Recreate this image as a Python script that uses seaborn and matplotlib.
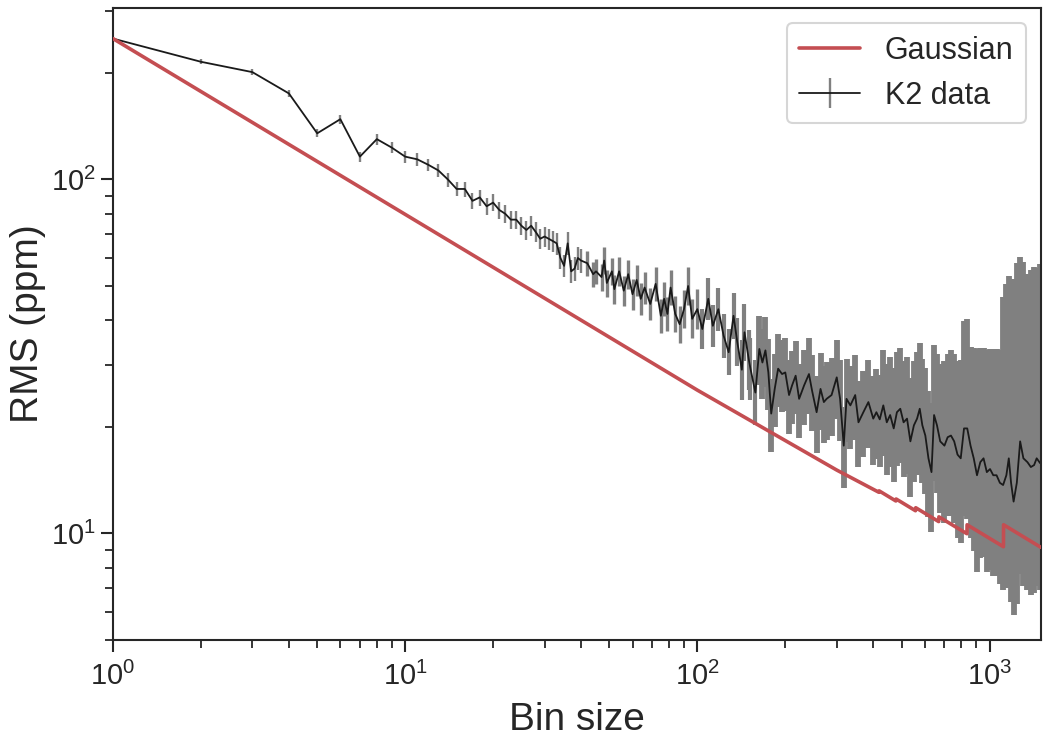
import numpy as np
import seaborn as sns
import matplotlib.pyplot as plt

# K2 binned RMS
k2_bin = [1, 2, 3, 4, 5, 6, 7, 8, 9, 10, 11, 12, 13, 14, 15, 16, 17, 18, 19, 20,
          21, 22, 23, 24, 25, 26, 27, 28, 29, 30, 31, 32, 33, 34, 35, 36, 37, 38, 39, 40,
          42, 44, 45, 47, 48, 49, 51, 52, 54, 56, 58, 60, 62, 64, 66, 69, 72, 75, 77, 79,
          81, 84, 87, 90, 93, 96, 100, 104, 109, 113, 118, 123, 128, 133, 137, 142, 145, 150, 152, 158,
          163, 167, 171, 175, 179, 184, 189, 195, 200, 206, 211, 217, 223, 232, 241, 247, 256, 264, 271, 277,
          288, 300, 308, 317, 324, 334, 347, 356, 370, 385, 400, 410, 421,
          433, 445, 457, 470, 482, 495, 508, 522, 536, 551, 565, 577, 589, 603, 618, 633, 646, 661, 678, 701,
          719, 738, 757, 777, 797, 818, 839, 861, 883, 906, 930, 954, 979, 1004, 1030, 1057, 1085, 1113, 1142, 1164,
          1185, 1209, 1240, 1273, 1306, 1348, 1385, 1421, 1450, 1490]

k2_rms = [250, 215, 201, 175, 135, 148, 116, 130, 123, 116, 114, 110, 106, 100, 94, 94, 87, 89, 84, 86,
          82, 80, 77, 77, 74, 72, 74, 71, 68, 69, 68, 67, 66, 60, 57, 66, 55, 56, 60, 59,
          58, 54, 55, 53, 59, 51, 55, 49, 55, 48.5, 54, 47.4, 52, 46, 49.5, 44.5, 50.7, 41.2, 46, 41.7,
          49.5, 41.7, 39, 43, 50, 40.4, 43, 37.8, 46, 38.6, 43, 36.2, 32.5, 41.2, 34.7, 29, 37, 31, 29.2, 25,
          33.2, 30.4, 32.9, 28.5, 21.8, 25.6, 29.2, 28.2, 28.5, 24.6, 26.2, 27.9, 24.0, 26.2, 28.2, 25.3, 22.0, 25.6, 23.5, 24.0,
          24.6, 27.6, 24.0, 17.7, 24.0, 23.0, 24.6, 20.6, 22.0, 23.5, 21.1, 22.0, 21.0,
          23.0, 20.6, 21.6, 19.8, 22.0, 22.5, 20.6, 21.1, 18.2, 20.2, 21.1, 22.5, 20.2, 18.9, 16.3, 14.9, 21.6, 20.2, 18.2, 17.7,
          18.7, 18.9, 18.2, 16.7, 16.3, 19.8, 19.8, 17.7, 16.3, 14.6, 15.9, 16.3, 14.9, 15.2, 14.6, 14.6, 13.9, 13.7, 14.6, 16.3,
          13.9, 12.3, 13.9, 18.2, 16.3, 15.9, 15.4, 15.6, 16.3, 15.8]

k2_err_lo = [3.0, 3.5, 3.8, 4.2, 3.6, 4.4, 3.8, 4.5, 4.5, 4.5, 4.5, 4.6, 4.6, 4.5, 4.4, 4.6, 4.4, 4.6, 4.5, 4.7,
             4.6, 4.6, 4.6, 4.6, 4.5, 4.5, 4.7, 4.6, 4.5, 4.6, 4.6, 4.6, 4.7, 4.3, 4.1, 4.9, 4.1, 4.2, 4.6, 4.5,
             4.6, 4.4, 4.5, 4.5, 5.0, 4.4, 4.8, 4.4, 5.0, 4.5, 5.0, 4.5, 5.0, 4.5, 5.0, 4.5, 5.3, 4.4, 4.9, 4.5,
             5.4, 4.7, 4.4, 5.0, 5.9, 4.8, 5.3, 4.7, 5.9, 5.0, 5.7, 4.9, 4.5, 5.8, 5.0, 5.2, 6.3, 5.6, 5.4, 4.8,
             7.0, 6.5, 7.0, 6.2, 4.8, 5.6, 6.4, 6.2, 6.3, 5.5, 5.8, 6.2, 5.4, 6.0, 6.4, 5.8, 5.1, 6.0, 5.5, 5.6,
             5.8, 6.6, 5.8, 4.3, 5.9, 5.7, 6.2, 5.2, 5.6, 6.1, 5.5, 5.8, 5.6,
             6.5, 6.0, 6.2, 5.8, 6.5, 6.7, 6.2, 6.4, 5.5, 6.2, 6.5, 7.0, 6.3, 6.0, 5.2, 4.8, 7.5, 7.2, 6.8, 7.0,
             7.5, 7.7, 7.5, 7.0, 6.9, 8.6, 8.8, 8.0, 7.4, 6.8, 7.4, 7.7, 7.1, 7.3, 7.0, 7.0, 6.7, 6.8, 7.6, 8.8,
             7.5, 6.4, 7.6, 10.5, 9.2, 9.0, 8.7, 8.8, 9.2, 8.9]

k2_err_hi = [3.0, 3.5, 3.8, 4.2, 3.6, 4.4, 3.8, 4.5, 4.5, 4.5, 4.5, 4.6, 4.6, 4.5, 4.4, 4.6, 4.4, 4.6, 4.5, 4.7,
             4.6, 4.6, 4.6, 4.6, 4.5, 4.5, 4.7, 4.6, 4.5, 4.6, 4.6, 4.6, 4.7, 4.3, 4.1, 4.9, 4.1, 4.2, 4.6, 4.5,
             4.8, 4.6, 4.7, 4.7, 5.3, 4.6, 5.0, 4.6, 5.3, 4.8, 5.3, 4.8, 5.4, 4.9, 5.4, 4.9, 5.8, 4.8, 5.4, 5.0,
             6.0, 5.2, 4.9, 5.6, 6.6, 5.4, 6.0, 5.3, 6.7, 5.7, 6.5, 5.6, 5.2, 6.7, 5.8, 6.1, 7.4, 6.6, 6.4, 5.8,
             8.0, 7.5, 8.0, 7.0, 5.5, 6.5, 7.3, 7.0, 7.2, 6.3, 6.6, 7.1, 6.2, 6.8, 7.4, 6.6, 5.8, 6.8, 6.3, 6.5,
             6.8, 7.7, 6.8, 5.0, 7.0, 6.8, 7.4, 6.3, 6.8, 7.4, 6.8, 7.2, 7.0,
             10, 9.5, 10, 9.5, 10.5, 11, 10, 10.5, 9.2, 10.5, 11.5, 12, 11, 10.5, 9, 8.5, 12.5, 12, 12, 13,
             13.5, 14, 14, 14, 14.5, 20, 20.5, 16, 17, 18.5, 17.5, 17, 18, 18, 18.5, 18.5, 19, 33, 36, 37,
             38, 40, 44, 42, 42, 38, 40, 41, 40, 42]

# Gaussian expectation (white noise), with the steps where the bin count drops
gauss_bin = [1, 100, 300, 418, 419, 478, 479, 558, 559, 670, 671, 837, 838, 1116, 1117, 1500]
gauss_rms = [250, 25.4, 15.1, 13.07, 13.19, 12.35, 12.51, 11.59, 11.82, 10.80, 11.14,
             9.98, 10.58, 9.17, 10.58, 9.13]


sns.set_theme(style="ticks", context="talk")
plt.rcParams["font.family"] = ["Liberation Sans", "DejaVu Sans"]

fig = plt.figure(figsize=(10.5, 7.5), dpi=100)
ax = fig.add_axes([0.1076, 0.1467, 0.8838, 0.8426])
ax.set_xscale("log")
ax.set_yscale("log")

# K2 data with error bars (bars under the line)
eb = ax.errorbar(k2_bin, k2_rms, yerr=[k2_err_lo, k2_err_hi], fmt="-", color="k",
                 ecolor="gray", lw=1.3, elinewidth=1.5, capsize=0, label="K2 data")
bins = np.array(k2_bin)
widths = np.select([bins <= 40, bins <= 100, bins <= 158], [1.7, 2.4, 3.0], 4.2)
eb[2][0].set_linewidths(widths)

# Gaussian line on top
sns.lineplot(x=gauss_bin, y=gauss_rms, color="#C44E52", lw=2.6, ax=ax,
             label="Gaussian", zorder=5)

ax.set_xlim(1, 1500)
ax.set_ylim(5, 305)
ax.set_xlabel("Bin size", fontsize=28, labelpad=8)
ax.set_ylabel("RMS (ppm)", fontsize=28)
ax.tick_params(which="major", length=8.5, width=1.5, labelsize=21)
ax.tick_params(axis="x", which="major", pad=7)
ax.tick_params(which="minor", length=5.5, width=1.3)
for sp in ax.spines.values():
    sp.set_linewidth(1.5)
    sp.set_visible(True)

handles, labels = ax.get_legend_handles_labels()
order = [labels.index("Gaussian"), labels.index("K2 data")]
ax.legend([handles[i] for i in order], [labels[i] for i in order],
          loc="upper right", fontsize=22, frameon=True)

fig.savefig("out.png", dpi=100)
